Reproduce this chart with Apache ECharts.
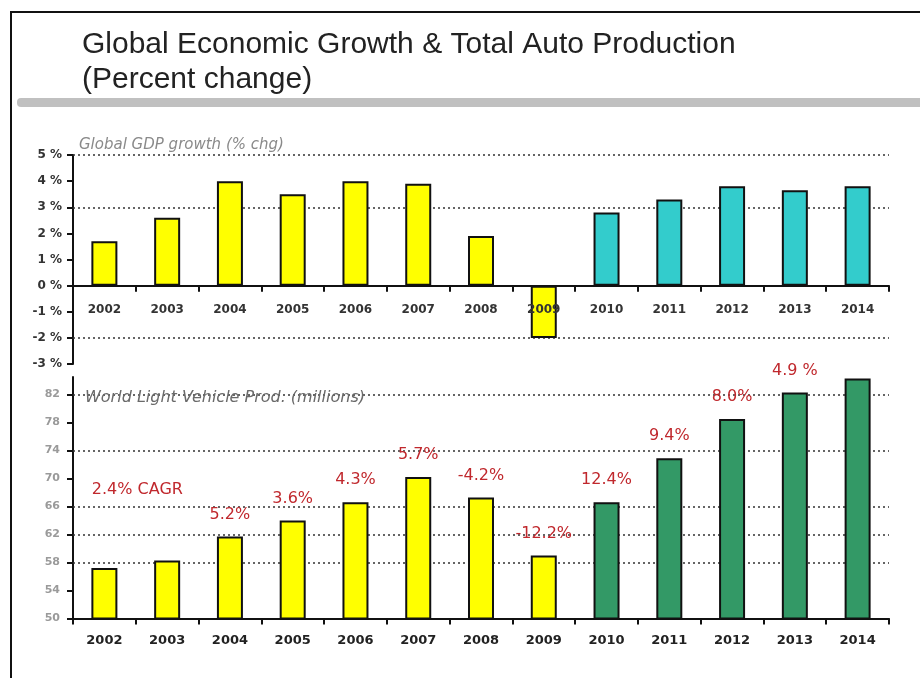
<!DOCTYPE html>
<html>
<head>
<meta charset="utf-8">
<title>Global Economic Growth &amp; Total Auto Production</title>
<script src="https://cdn.jsdelivr.net/npm/echarts@6/dist/echarts.min.js"></script>
<style>
  html, body { margin: 0; padding: 0; background: #ffffff; }
  #chart { width: 920px; height: 678px; }
</style>
</head>
<body>
<div id="chart"></div>
<script>
// Years shown on both panels
const years = ['2002', '2003', '2004', '2005', '2006', '2007', '2008',
               '2009', '2010', '2011', '2012', '2013', '2014'];
// First forecast year (bars from here on change colour)
const forecastFrom = '2010';

// Global GDP growth, % change
const gdpGrowth = [1.7, 2.6, 4.0, 3.5, 4.0, 3.9, 1.9, -2.0, 2.8, 3.3, 3.8, 3.65, 3.8];
// World light vehicle production, millions of units
const vehicleProd = [57.2, 58.3, 61.7, 64.0, 66.6, 70.2, 67.3, 59.0, 66.6, 72.9, 78.5, 82.3, 84.3];
// Year-on-year production change printed above the bars
const prodChange = ['2.4% CAGR', '', '5.2%', '3.6%', '4.3%', '5.7%', '-4.2%',
                    '-12.2%', '12.4%', '9.4%', '8.0%', '4.9 %', ''];

// Axis ticks and dotted reference lines
const gdpTicks = [-3, -2, -1, 0, 1, 2, 3, 4, 5];
const gdpGuides = [5, 3, -2];
const prodTicks = [50, 54, 58, 62, 66, 70, 74, 78, 82];
const prodGuides = [82, 74, 66, 62, 58];

const COLORS = {
  histBar: '#ffff00',
  gdpForecast: '#33cccc',
  prodForecast: '#339966',
  label: '#c0282d'
};

const forecastIdx = years.indexOf(forecastFrom);

function barItems(values, forecastColor) {
  return values.map((v, i) => ({
    value: v,
    itemStyle: { color: i >= forecastIdx ? forecastColor : COLORS.histBar }
  }));
}

function prodItems() {
  return barItems(vehicleProd, COLORS.prodForecast).map((item, i) => {
    item.label = { formatter: prodChange[i] };
    if (i === 0) {
      // the CAGR note sits off to the right of the first bar
      item.label.offset = [33, -56];
    }
    return item;
  });
}

function guideLines(values) {
  return {
    silent: true,
    symbol: 'none',
    z: 1,
    animation: false,
    label: { show: false },
    emphasis: { disabled: true },
    lineStyle: { type: [2, 3], color: '#333333', width: 1.5 },
    data: values.map(v => ({ yAxis: v }))
  };
}

const barBorder = { borderColor: '#111111', borderWidth: 2 };
const axisLineStyle = { lineStyle: { color: '#111111', width: 2 } };

const chart = echarts.init(document.getElementById('chart'), null, { renderer: 'canvas' });

chart.setOption({
  animation: false,
  backgroundColor: '#ffffff',
  title: [
    {
      text: 'Global Economic Growth & Total Auto Production\n(Percent change)',
      left: 77, top: 22,
      textStyle: {
        fontFamily: 'Liberation Sans', fontSize: 30, fontWeight: 'normal',
        color: '#222222', lineHeight: 35
      }
    },
    {
      text: 'Global GDP growth (% chg)',
      left: 74, top: 133,
      textStyle: {
        fontFamily: 'DejaVu Sans', fontStyle: 'italic', fontSize: 15,
        fontWeight: 'normal', color: '#8a8a8a'
      }
    },
    {
      text: 'World Light Vehicle Prod. (millions)',
      left: 80, top: 385,
      textStyle: {
        fontFamily: 'DejaVu Sans', fontStyle: 'italic', fontSize: 16,
        fontWeight: 'normal', color: '#6a6a6a'
      }
    }
  ],
  graphic: [
    {
      type: 'polyline', silent: true,
      shape: { points: [[11, 678], [11, 12], [920, 12]] },
      style: { stroke: '#111111', lineWidth: 2, fill: null }
    },
    {
      type: 'rect', silent: true,
      shape: { x: 17, y: 98, width: 910, height: 9, r: [4, 0, 0, 4] },
      style: { fill: '#c0c0c0' }
    }
  ],
  grid: [
    { left: 73, right: 31, top: 155, height: 209 },
    { left: 73, right: 31, top: 377, height: 241.5 }
  ],
  xAxis: [
    {
      type: 'category', gridIndex: 0, data: years, z: 5,
      axisLine: { onZero: true, ...axisLineStyle },
      axisTick: { show: true, length: 6, lineStyle: { color: '#111111', width: 2 } },
      axisLabel: {
        // labels sit just under the zero line rather than at the grid floor
        margin: -60, fontFamily: 'DejaVu Sans', fontWeight: 'bold',
        fontSize: 12, color: '#333333'
      }
    },
    {
      type: 'category', gridIndex: 1, data: years,
      axisLine: axisLineStyle,
      axisTick: { show: true, length: 6, lineStyle: { color: '#111111', width: 2 } },
      axisLabel: {
        margin: 16, fontFamily: 'DejaVu Sans', fontWeight: 'bold',
        fontSize: 13, color: '#222222'
      }
    }
  ],
  yAxis: [
    {
      type: 'value', gridIndex: 0, min: -3, max: 5, interval: 1,
      axisLine: { show: true, ...axisLineStyle },
      axisTick: { show: true, length: 6, lineStyle: { color: '#111111', width: 2 } },
      splitLine: { show: false },
      axisLabel: {
        margin: 11, fontFamily: 'DejaVu Sans', fontWeight: 'bold',
        fontSize: 12, color: '#333333',
        customValues: gdpTicks,
        formatter: v => v + ' %'
      }
    },
    {
      type: 'value', gridIndex: 1, min: 50, max: 84.5,
      axisLine: { show: true, ...axisLineStyle },
      axisTick: {
        show: true, length: 6, customValues: prodTicks,
        lineStyle: { color: '#111111', width: 2 }
      },
      splitLine: { show: false },
      axisLabel: {
        margin: 13, fontFamily: 'DejaVu Sans', fontWeight: 'bold',
        fontSize: 11, color: '#9a9a9a',
        customValues: prodTicks
      }
    }
  ],
  series: [
    {
      name: 'Global GDP growth',
      type: 'bar', xAxisIndex: 0, yAxisIndex: 0,
      barWidth: 26, z: 2,
      itemStyle: barBorder,
      data: barItems(gdpGrowth, COLORS.gdpForecast),
      markLine: guideLines(gdpGuides)
    },
    {
      name: 'World light vehicle production',
      type: 'bar', xAxisIndex: 1, yAxisIndex: 1,
      barWidth: 26, z: 2,
      itemStyle: barBorder,
      label: {
        show: true, position: 'top', distance: 14,
        fontFamily: 'DejaVu Sans', fontSize: 16, color: COLORS.label
      },
      data: prodItems(),
      markLine: guideLines(prodGuides)
    }
  ]
});
</script>
</body>
</html>
